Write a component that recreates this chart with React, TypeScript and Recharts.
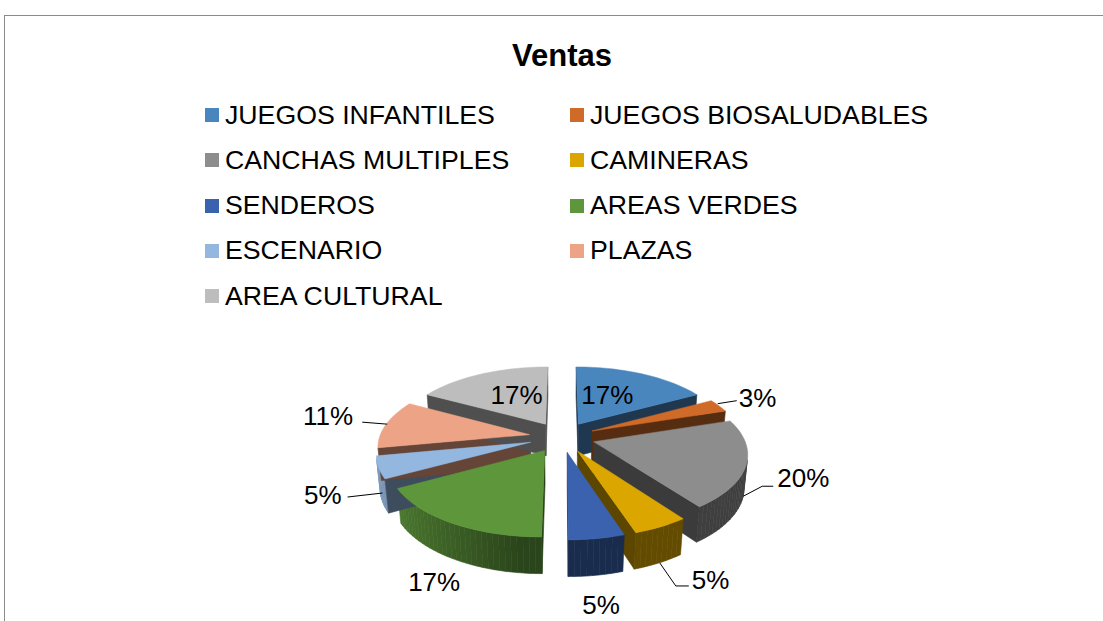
import React from 'react';
import { PieChart, Pie, Legend } from 'recharts';

// ---------- data ----------
const categories = [
  'JUEGOS INFANTILES',
  'JUEGOS BIOSALUDABLES',
  'CANCHAS MULTIPLES',
  'CAMINERAS',
  'SENDEROS',
  'AREAS VERDES',
  'ESCENARIO',
  'PLAZAS',
  'AREA CULTURAL',
];
const values = [17, 3, 20, 5, 5, 17, 5, 11, 17];
const title = 'Ventas';

// ---------- style ----------
const topColors = ['#4a86be', '#d06a28', '#8d8d8d', '#dba600', '#3a62ae', '#5e973b', '#94b7df', '#eda486', '#bdbdbd'];

const W = 1103;
const H = 621;
const CX = 562;
const CY = 437;
const RADIUS = 150;
const EXPLODE = 33;
const DEPTH = 37;
const TILT = (27.5 * Math.PI) / 180;
const CAM = 900;
const LIGHT = [-0.995, 0.1];
const FONT = '"Liberation Sans", Arial, Helvetica, sans-serif';
const RAD = Math.PI / 180;

type LabelCfg =
  | { kind: 'inside'; r: number; dx: number; dy: number }
  | { kind: 'free'; depth: number; dx: number; dy: number }
  | { kind: 'line'; depth: number; line: number[][]; text: number[]; anchor: 'start' | 'end' };

const labelLayout: LabelCfg[] = [
  { kind: 'inside', r: 0.5, dx: -5, dy: 6 },
  { kind: 'line', depth: 0, line: [[-1, -2], [18, -5]], text: [20, 1], anchor: 'start' },
  { kind: 'line', depth: 0.85, line: [[0, 3], [19, -7], [30, -7]], text: [34, -6], anchor: 'start' },
  { kind: 'line', depth: 1, line: [[1, 0], [17, 23], [30, 23]], text: [33, 26], anchor: 'start' },
  { kind: 'free', depth: 1, dx: 5, dy: 39 },
  { kind: 'free', depth: 1, dx: -20, dy: 32 },
  { kind: 'line', depth: 0.8, line: [[1, -1.5], [-34, 2.5]], text: [-40, 9.5], anchor: 'end' },
  { kind: 'line', depth: 0, line: [[1, 0], [-24, -2]], text: [-33, 1], anchor: 'end' },
  { kind: 'inside', r: 0.5, dx: 5, dy: 6 },
];

const data = categories.map((name, i) => ({ name, value: values[i], idx: i, fill: topColors[i] }));

// ---------- 3D projection helpers ----------
function project(cx: number, cy: number, u: number, v: number, y: number): [number, number] {
  const t = Math.sin(TILT);
  const c = Math.cos(TILT);
  const ys = y * c + v * t;
  const zc = -v * c + y * t;
  const s = CAM / (CAM - zc);
  return [cx + u * s, cy - ys * s];
}

function geom(props: any) {
  const { cx, cy } = props;
  const mid = props.midAngle ?? (props.startAngle + props.endAngle) / 2;
  const ou = EXPLODE * Math.cos(mid * RAD);
  const ov = EXPLODE * Math.sin(mid * RAD);
  return (a: number, r: number, y: number) =>
    project(cx, cy, ou + r * Math.cos(a * RAD), ov + r * Math.sin(a * RAD), y);
}

function area(q: [number, number][]) {
  let s = 0;
  for (let i = 0; i < q.length; i++) {
    const [x0, y0] = q[i];
    const [x1, y1] = q[(i + 1) % q.length];
    s += x0 * y1 - x1 * y0;
  }
  return s / 2;
}

function poly(q: [number, number][]) {
  return q.map((p, i) => `${i ? 'L' : 'M'}${p[0].toFixed(2)},${p[1].toFixed(2)}`).join(' ') + ' Z';
}

function shade(hex: string, f: number) {
  const n = parseInt(hex.slice(1), 16);
  const r = Math.min(255, Math.round(((n >> 16) & 255) * f));
  const g = Math.min(255, Math.round(((n >> 8) & 255) * f));
  const b = Math.min(255, Math.round((n & 255) * f));
  return `rgb(${r},${g},${b})`;
}

function sliceIndex(props: any): number {
  if (props.idx !== undefined) return props.idx;
  if (props.payload && props.payload.idx !== undefined) return props.payload.idx;
  return Math.max(0, categories.indexOf(props.name));
}

function WallShape(props: any) {
  const R = props.outerRadius;
  const idx = sliceIndex(props);
  const base = topColors[idx];
  const pt = geom(props);
  const hi = Math.max(props.startAngle, props.endAngle);
  const lo = Math.min(props.startAngle, props.endAngle);
  const els: React.ReactNode[] = [];
  const n = Math.max(2, Math.ceil((hi - lo) / 2));
  for (let k = 0; k < n; k++) {
    const a0 = lo + ((hi - lo) * k) / n;
    const a1 = lo + ((hi - lo) * (k + 1)) / n;
    const q = [pt(a0, R, 0), pt(a1, R, 0), pt(a1, R, -DEPTH), pt(a0, R, -DEPTH)];
    if (area(q) <= 0) continue;
    const am = ((a0 + a1) / 2) * RAD;
    const dot = Math.cos(am) * LIGHT[0] + Math.sin(am) * LIGHT[1];
    const col = shade(base, 0.45 + 0.42 * Math.max(0, dot));
    els.push(<path key={'o' + k} d={poly(q)} fill={col} stroke={col} strokeWidth={0.6} />);
  }
  const wallCol = shade(base, 0.42);
  const qHi = [pt(hi, 0, 0), pt(hi, R, 0), pt(hi, R, -DEPTH), pt(hi, 0, -DEPTH)];
  if (area(qHi) < 0) els.push(<path key="hi" d={poly(qHi)} fill={wallCol} stroke={wallCol} strokeWidth={0.6} />);
  const qLo = [pt(lo, 0, 0), pt(lo, R, 0), pt(lo, R, -DEPTH), pt(lo, 0, -DEPTH)];
  if (area(qLo) > 0) els.push(<path key="lo" d={poly(qLo)} fill={wallCol} stroke={wallCol} strokeWidth={0.6} />);
  return <g>{els}</g>;
}

function TopShape(props: any) {
  const R = props.outerRadius;
  const idx = sliceIndex(props);
  const pt = geom(props);
  const hi = Math.max(props.startAngle, props.endAngle);
  const lo = Math.min(props.startAngle, props.endAngle);
  const pts: [number, number][] = [pt(hi, 0, 0)];
  const n = Math.max(2, Math.ceil((hi - lo) / 2));
  for (let k = 0; k <= n; k++) pts.push(pt(hi - ((hi - lo) * k) / n, R, 0));
  const col = topColors[idx];
  return <path d={poly(pts)} fill={col} stroke={col} strokeWidth={0.5} />;
}

function renderLabel(props: any) {
  const idx = props.index ?? sliceIndex(props);
  const cfg = labelLayout[idx];
  const pt = geom(props);
  const mid = props.midAngle;
  const R = props.outerRadius;
  const text = `${Math.round((props.percent ?? values[idx] / 100) * 100)}%`;
  const textProps = { fontFamily: FONT, fontSize: 26, fill: '#000' };
  if (cfg.kind === 'inside') {
    const [x, y] = pt(mid, R * cfg.r, 0);
    return (
      <text key={'l' + idx} x={x + cfg.dx} y={y + cfg.dy} textAnchor="middle" {...textProps}>
        {text}
      </text>
    );
  }
  if (cfg.kind === 'free') {
    const [x, y] = pt(mid, R, -DEPTH * cfg.depth);
    return (
      <text key={'l' + idx} x={x + cfg.dx} y={y + cfg.dy} textAnchor="middle" {...textProps}>
        {text}
      </text>
    );
  }
  const [ax, ay] = pt(mid, R, -DEPTH * cfg.depth);
  const d = cfg.line.map((p, i) => `${i ? 'L' : 'M'}${ax + p[0]},${ay + p[1]}`).join(' ');
  return (
    <g key={'l' + idx}>
      <path d={d} fill="none" stroke="#000" strokeWidth={1} />
      <text x={ax + cfg.text[0]} y={ay + cfg.text[1]} textAnchor={cfg.anchor} {...textProps}>
        {text}
      </text>
    </g>
  );
}

function LegendContent() {
  return (
    <div style={{ position: 'relative', width: W, height: 330 }}>
      {categories.map((c, i) => {
        const col = i % 2;
        const row = Math.floor(i / 2);
        return (
          <div
            key={c}
            style={{
              position: 'absolute',
              left: 205 + col * 365,
              top: 115 + row * 45.3 - 16,
              height: 32,
              display: 'flex',
              alignItems: 'center',
              whiteSpace: 'nowrap',
              fontFamily: FONT,
              fontSize: 26.7,
              color: '#000',
            }}
          >
            <span style={{ width: 14, height: 14, background: topColors[i], marginRight: 6, display: 'inline-block' }} />
            {c}
          </div>
        );
      })}
    </div>
  );
}

export default function App() {
  return (
    <div style={{ position: 'fixed', left: 0, top: 0, width: W, height: H, overflow: 'hidden', background: '#fff' }}>
      <div
        style={{
          position: 'absolute',
          left: 4,
          top: 15,
          width: W + 20,
          height: H + 20,
          border: '1px solid #8a8a8a',
          boxSizing: 'border-box',
        }}
      />
      <svg style={{ position: 'absolute', left: 0, top: 0 }} width={W} height={90}>
        <text x={CX} y={66} textAnchor="middle" fontFamily={FONT} fontSize={31} fontWeight="bold" fill="#000">
          {title}
        </text>
      </svg>
      <div style={{ position: 'absolute', left: 0, top: 0 }}>
        <PieChart width={W} height={H} margin={{ top: 0, right: 0, bottom: 0, left: 0 }}>
          <Legend
            verticalAlign="bottom"
            content={<LegendContent />}
            wrapperStyle={{ left: 0, top: 0, bottom: 'auto', width: W, height: 330 }}
          />
          <Pie
            data={data}
            dataKey="value"
            nameKey="name"
            cx={CX}
            cy={CY}
            outerRadius={RADIUS}
            startAngle={90}
            endAngle={-270}
            isAnimationActive={false}
            legendType="none"
            stroke="none"
            shape={WallShape}
            inactiveShape={WallShape}
            activeShape={WallShape}
            label={false}
            labelLine={false}
          />
          <Pie
            data={data}
            dataKey="value"
            nameKey="name"
            cx={CX}
            cy={CY}
            outerRadius={RADIUS}
            startAngle={90}
            endAngle={-270}
            isAnimationActive={false}
            stroke="none"
            shape={TopShape}
            inactiveShape={TopShape}
            activeShape={TopShape}
            label={renderLabel}
            labelLine={false}
          />
        </PieChart>
      </div>
    </div>
  );
}
